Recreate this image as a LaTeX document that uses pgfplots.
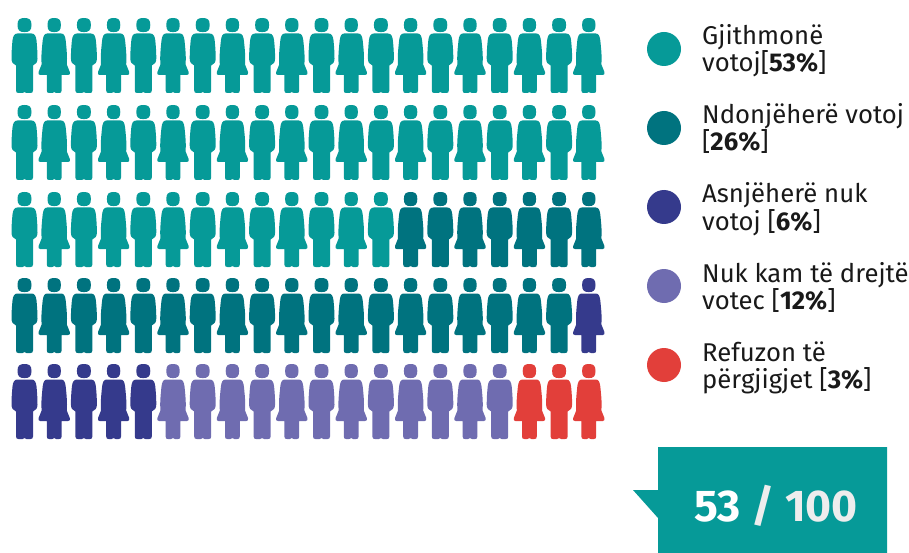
\documentclass[border=0pt]{standalone}
\usepackage{fontspec}
\setmainfont{Fira Sans}
\usepackage{pgfplots}
\pgfplotsset{compat=1.18}
\definecolor{cTeal}{HTML}{069A98}
\definecolor{cDark}{HTML}{00737F}
\definecolor{cNavy}{HTML}{353A8C}
\definecolor{cPurple}{HTML}{6F6CB0}
\definecolor{cRed}{HTML}{E23F3A}
\def\PM#1#2{\pgfpathmoveto{\pgfqpoint{#1pt}{#2pt}}}
\def\PL#1#2{\pgfpathlineto{\pgfqpoint{#1pt}{#2pt}}}
\def\PC#1#2#3#4#5#6{\pgfpathcurveto{\pgfqpoint{#1pt}{#2pt}}{\pgfqpoint{#3pt}{#4pt}}{\pgfqpoint{#5pt}{#6pt}}}
\pgfdeclareplotmark{man}{%
  \PM{-7}{30.5}
  \PC{-7}{35.8}{-5}{37.5}{0}{37.5}
  \PC{5}{37.5}{7}{35.8}{7}{30.5}
  \PC{7}{25.2}{5}{23.4}{0}{23.4}
  \PC{-5}{23.4}{-7}{25.2}{-7}{30.5}
  \pgfpathclose
  \PM{-7}{22}
  \PL{7}{22}
  \PC{10.5}{22}{11.5}{19}{12}{15}
  \PC{12.6}{9}{13}{3}{13}{-3}
  \PC{13}{-6.5}{11.5}{-9}{8.5}{-10}
  \PL{8.5}{-35}
  \PC{8.5}{-37}{7.5}{-37.5}{6}{-37.5}
  \PL{2}{-37.5}
  \PC{1}{-37.5}{0.5}{-37.2}{0}{-36.6}
  \PC{-0.5}{-37.2}{-1}{-37.5}{-2}{-37.5}
  \PL{-6}{-37.5}
  \PC{-7.5}{-37.5}{-8.5}{-37}{-8.5}{-35}
  \PL{-8.5}{-10}
  \PC{-11.5}{-9}{-13}{-6.5}{-13}{-3}
  \PC{-13}{3}{-12.6}{9}{-12}{15}
  \PC{-11.5}{19}{-10.5}{22}{-7}{22}
  \pgfpathclose
  \pgfusepathqfill}
\pgfdeclareplotmark{woman}{%
  \PM{-6.7}{30.5}
  \PC{-6.7}{35.8}{-4.8}{37.5}{0}{37.5}
  \PC{4.8}{37.5}{6.7}{35.8}{6.7}{30.5}
  \PC{6.7}{25.2}{4.8}{23.4}{0}{23.4}
  \PC{-4.8}{23.4}{-6.7}{25.2}{-6.7}{30.5}
  \pgfpathclose
  \PM{-7}{22}
  \PL{7}{22}
  \PC{10}{22}{11}{19}{11.5}{15}
  \PC{12.1}{9}{12.8}{3}{12.8}{-3}
  \PC{12.8}{-5.5}{12.6}{-7.5}{12.6}{-9}
  \PL{15.6}{-16.5}
  \PC{16.2}{-18.2}{15.5}{-19.5}{14}{-19.5}
  \PL{7.4}{-19.5}
  \PL{7.4}{-35}
  \PC{7.4}{-37}{6.5}{-37.5}{5}{-37.5}
  \PL{2}{-37.5}
  \PC{1}{-37.5}{0.5}{-37.2}{0}{-36.6}
  \PC{-0.5}{-37.2}{-1}{-37.5}{-2}{-37.5}
  \PL{-5}{-37.5}
  \PC{-6.5}{-37.5}{-7.4}{-37}{-7.4}{-35}
  \PL{-7.4}{-19.5}
  \PL{-14}{-19.5}
  \PC{-15.5}{-19.5}{-16.2}{-18.2}{-15.6}{-16.5}
  \PL{-12.6}{-9}
  \PC{-12.6}{-7.5}{-12.8}{-5.5}{-12.8}{-3}
  \PC{-12.8}{3}{-12.1}{9}{-11.5}{15}
  \PC{-11}{19}{-10}{22}{-7}{22}
  \pgfpathclose
  \pgfusepathqfill}
\pgfdeclareplotmark{dot}{\pgfpathcircle{\pgfpointorigin}{17pt}\pgfusepathqfill}
\begin{document}
\begin{tikzpicture}[x=1pt,y=1pt]
\useasboundingbox (0,0) rectangle (909,553);
\begin{axis}[
  at={(0,0)},anchor=south west,
  scale only axis,width=909pt,height=553pt,
  xmin=0,xmax=909,ymin=0,ymax=553,y dir=reverse,
  hide axis,clip=false
]
% box
\addplot[draw=none,fill=cTeal,no marks,forget plot] coordinates {(658,447)(887,447)(887,553)(658,553)(658,518)(633,490)(658,490)} --cycle;
% teal
\addplot[only marks,mark=man,color=cTeal] coordinates {
(24.5,55.5)(83.9,55.5)(143.3,55.5)(202.7,55.5)(262.1,55.5)(321.5,55.5)(380.9,55.5)(440.3,55.5)(499.7,55.5)(559.1,55.5)
(24.5,142.5)(83.9,142.5)(143.3,142.5)(202.7,142.5)(262.1,142.5)(321.5,142.5)(380.9,142.5)(440.3,142.5)(499.7,142.5)(559.1,142.5)
(24.5,229.5)(83.9,229.5)(143.3,229.5)(202.7,229.5)(262.1,229.5)(321.5,229.5)(380.9,229.5)};
\addplot[only marks,mark=woman,color=cTeal] coordinates {
(54.2,55.5)(113.6,55.5)(173,55.5)(232.4,55.5)(291.8,55.5)(351.2,55.5)(410.6,55.5)(470,55.5)(529.4,55.5)(588.8,55.5)
(54.2,142.5)(113.6,142.5)(173,142.5)(232.4,142.5)(291.8,142.5)(351.2,142.5)(410.6,142.5)(470,142.5)(529.4,142.5)(588.8,142.5)
(54.2,229.5)(113.6,229.5)(173,229.5)(232.4,229.5)(291.8,229.5)(351.2,229.5)};
% dark teal
\addplot[only marks,mark=man,color=cDark] coordinates {
(440.3,229.5)(499.7,229.5)(559.1,229.5)
(24.5,315.5)(83.9,315.5)(143.3,315.5)(202.7,315.5)(262.1,315.5)(321.5,315.5)(380.9,315.5)(440.3,315.5)(499.7,315.5)(559.1,315.5)};
\addplot[only marks,mark=woman,color=cDark] coordinates {
(410.6,229.5)(470,229.5)(529.4,229.5)(588.8,229.5)
(54.2,315.5)(113.6,315.5)(173,315.5)(232.4,315.5)(291.8,315.5)(351.2,315.5)(410.6,315.5)(470,315.5)(529.4,315.5)};
% navy
\addplot[only marks,mark=woman,color=cNavy] coordinates {(588.8,315.5)(54.2,401.5)(113.6,401.5)};
\addplot[only marks,mark=man,color=cNavy] coordinates {(24.5,401.5)(83.9,401.5)(143.3,401.5)};
% purple
\addplot[only marks,mark=woman,color=cPurple] coordinates {(173,401.5)(232.4,401.5)(291.8,401.5)(351.2,401.5)(410.6,401.5)(470,401.5)};
\addplot[only marks,mark=man,color=cPurple] coordinates {(202.7,401.5)(262.1,401.5)(321.5,401.5)(380.9,401.5)(440.3,401.5)(499.7,401.5)};
% red
\addplot[only marks,mark=woman,color=cRed] coordinates {(529.4,401.5)(588.8,401.5)};
\addplot[only marks,mark=man,color=cRed] coordinates {(559.1,401.5)};
% legend dots
\addplot[only marks,mark=dot,color=cTeal] coordinates {(664,49)};
\addplot[only marks,mark=dot,color=cDark] coordinates {(664,128)};
\addplot[only marks,mark=dot,color=cNavy] coordinates {(664,207)};
\addplot[only marks,mark=dot,color=cPurple] coordinates {(664,286)};
\addplot[only marks,mark=dot,color=cRed] coordinates {(664,365)};
\def\lg#1#2#3{\node[anchor=base west,inner sep=0pt,font=\fontsize{25.7}{27}\selectfont,text=black!90] at (axis cs:702,#1) {#2};
  \node[anchor=base west,inner sep=0pt,font=\fontsize{25.7}{27}\selectfont,text=black!90] at (axis cs:702,#1+27) {#3};}
\lg{45}{Gjithmonë}{votoj[\textbf{53\%}]}
\lg{124}{Ndonjëherë votoj}{[\textbf{26\%}]}
\lg{203}{Asnjëherë nuk}{votoj [\textbf{6\%}]}
\lg{282}{Nuk kam të drejtë}{votec [\textbf{12\%}]}
\lg{361}{Refuzon të}{përgjigjet [\textbf{3\%}]}
\node[anchor=base,inner sep=0pt,font=\fontsize{44.5}{48}\selectfont\bfseries,text=white] at (axis cs:776,521) {53 {\color{black!7}/ 100}};
\end{axis}
\end{tikzpicture}
\end{document}
